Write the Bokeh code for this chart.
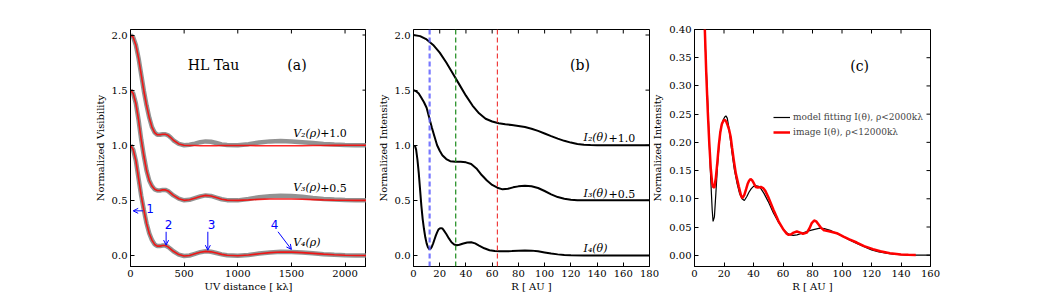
import math
from bokeh.plotting import figure
from bokeh.layouts import row
from bokeh.models import (Range1d, FixedTicker, PrintfTickFormatter, Label,
                          Arrow, OpenHead, Span, Legend, LegendItem)
from bokeh.embed import file_html
from bokeh.resources import INLINE

# ---------------- data ----------------
# (a) visibilities vs uv distance [k lambda]
uv_klambda = [0, 25, 50, 75, 100, 125, 150, 175, 200, 225, 250, 275, 300, 325, 350, 375, 400,
              450, 500, 550, 600, 650, 700, 750, 800, 850, 900, 1000, 1100, 1200, 1300, 1400,
              1500, 1600, 1700, 1800, 1900, 2000, 2100, 2200]
V2_obs = [1.0, 0.98, 0.91, 0.79, 0.64, 0.49, 0.36, 0.25, 0.165, 0.115, 0.095, 0.095, 0.10, 0.10,
          0.09, 0.07, 0.045, 0.012, 0.0, 0.005, 0.015, 0.028, 0.035, 0.032, 0.02, 0.008, 0.002,
          0.0, 0.01, 0.025, 0.035, 0.038, 0.035, 0.028, 0.02, 0.012, 0.006, 0.003, 0.001, 0.0]
V2_model = [1.0, 0.98, 0.91, 0.79, 0.64, 0.49, 0.36, 0.25, 0.165, 0.115, 0.095, 0.095, 0.10, 0.10,
            0.09, 0.07, 0.045, 0.012, 0.0, -0.002, -0.003, -0.004, -0.005, -0.005, -0.004, -0.003,
            -0.002, -0.002, -0.003, -0.004, -0.005, -0.005, -0.005, -0.004, -0.003, -0.002, -0.001,
            0.0, 0.0, 0.0]
V3_obs = [1.0, 0.97, 0.88, 0.73, 0.55, 0.40, 0.27, 0.18, 0.13, 0.10, 0.09, 0.09, 0.095, 0.095,
          0.085, 0.065, 0.045, 0.015, 0.0, 0.005, 0.02, 0.035, 0.045, 0.04, 0.025, 0.01, 0.002,
          0.0, 0.012, 0.028, 0.038, 0.042, 0.04, 0.032, 0.022, 0.013, 0.007, 0.003, 0.001, 0.0]
V3_model = [1.0, 0.97, 0.88, 0.73, 0.55, 0.40, 0.27, 0.18, 0.13, 0.10, 0.09, 0.09, 0.095, 0.095,
            0.085, 0.065, 0.045, 0.015, 0.0, 0.005, 0.02, 0.035, 0.045, 0.04, 0.025, 0.01, 0.002,
            0.0, 0.004, 0.009, 0.012, 0.013, 0.012, 0.01, 0.007, 0.004, 0.002, 0.001, 0.0, 0.0]
V4_obs = [1.0, 0.96, 0.86, 0.70, 0.54, 0.41, 0.29, 0.20, 0.14, 0.10, 0.085, 0.085, 0.09, 0.09,
          0.078, 0.058, 0.038, 0.008, -0.005, 0.0, 0.015, 0.03, 0.038, 0.034, 0.022, 0.01, 0.002,
          -0.002, 0.005, 0.018, 0.028, 0.033, 0.032, 0.027, 0.02, 0.012, 0.006, 0.002, 0.0, 0.0]
V4_model = [1.0, 0.96, 0.86, 0.70, 0.54, 0.41, 0.29, 0.20, 0.14, 0.10, 0.085, 0.085, 0.09, 0.09,
            0.078, 0.058, 0.038, 0.008, -0.005, 0.0, 0.015, 0.03, 0.037, 0.033, 0.022, 0.01, 0.002,
            -0.002, 0.004, 0.016, 0.026, 0.031, 0.03, 0.026, 0.019, 0.012, 0.006, 0.002, 0.0, 0.0]
V_offsets = [1.0, 0.5, 0.0]

# (b) intensity profiles vs radius [AU]
R_I2 = [0, 5, 10, 15, 20, 25, 30, 35, 40, 45, 50, 55, 60, 65, 70, 75, 80, 85, 90, 95, 100, 105,
        110, 115, 120, 125, 130, 135, 140, 150, 160, 170, 180]
I2 = [1.0, 0.99, 0.96, 0.91, 0.84, 0.75, 0.65, 0.55, 0.45, 0.36, 0.29, 0.24, 0.215, 0.20, 0.19,
      0.183, 0.175, 0.165, 0.15, 0.13, 0.107, 0.083, 0.06, 0.04, 0.024, 0.012, 0.005, 0.002, 0.0,
      0.0, 0.0, 0.0, 0.0]
R_I3 = [0, 2, 4, 6, 8, 10, 12, 14, 16, 18, 20, 22, 25, 28, 32, 36, 40, 44, 48, 52, 56, 60, 64, 68,
        72, 76, 80, 85, 90, 95, 100, 105, 110, 115, 120, 125, 130, 140, 160, 180]
I3 = [1.0, 0.99, 0.97, 0.93, 0.89, 0.84, 0.75, 0.66, 0.58, 0.50, 0.45, 0.41, 0.375, 0.355, 0.35,
      0.35, 0.345, 0.33, 0.29, 0.23, 0.18, 0.14, 0.115, 0.10, 0.105, 0.118, 0.127, 0.132, 0.128,
      0.112, 0.085, 0.055, 0.03, 0.015, 0.005, 0.001, 0.0, 0.0, 0.0, 0.0]
R_I4 = [1, 2, 3, 4, 5, 6, 7, 8, 9, 10, 11, 12, 13, 14, 15, 16, 17, 18, 19, 20, 21, 22, 23, 25, 27,
        29, 31, 33, 35, 38, 41, 44, 47, 50, 54, 58, 62, 66, 70, 75, 80, 85, 90, 95, 100, 105, 110,
        115, 120, 130, 150, 180]
I4 = [1.0, 0.96, 0.87, 0.75, 0.60, 0.45, 0.33, 0.24, 0.165, 0.11, 0.075, 0.058, 0.06, 0.08, 0.11,
      0.145, 0.18, 0.21, 0.235, 0.245, 0.248, 0.245, 0.23, 0.195, 0.155, 0.12, 0.10, 0.093, 0.097,
      0.108, 0.118, 0.12, 0.11, 0.09, 0.065, 0.048, 0.04, 0.038, 0.038, 0.04, 0.043, 0.045, 0.044,
      0.038, 0.028, 0.018, 0.01, 0.005, 0.002, 0.0, 0.0, 0.0]
I_offsets = [1.0, 0.5, 0.0]
gap_radii = [12.3, 32.2, 64.0]
gap_colors = ["#6060ff", "#1a8a1a", "#f03c3c"]

# (c) model fitting vs image profile
R_model = [6, 7, 8, 9, 10, 11, 12, 12.6, 13.5, 14.5, 15.5, 16.5, 17.5, 18.5, 19.5, 20.5, 21.3,
           22.2, 23.2, 24.3, 25.5, 27, 28.8, 30.5, 32.2, 33.8, 35.5, 37, 38.5, 40, 42, 43.5, 45,
           47, 50, 53.5, 57, 60.5, 63, 65, 67, 69.5, 72, 76, 80, 85, 88, 92, 96, 100, 105, 110,
           115, 120, 125, 130, 135, 140, 145, 150, 155, 160]
I_model = [0.46, 0.39, 0.33, 0.27, 0.20, 0.135, 0.08, 0.06, 0.068, 0.11, 0.155, 0.19, 0.218,
           0.232, 0.24, 0.245, 0.247, 0.243, 0.228, 0.205, 0.18, 0.152, 0.128, 0.11, 0.10, 0.097,
           0.104, 0.112, 0.118, 0.122, 0.123, 0.122, 0.118, 0.11, 0.095, 0.075, 0.058, 0.045,
           0.039, 0.036, 0.035, 0.036, 0.038, 0.042, 0.045, 0.048, 0.047, 0.044, 0.039, 0.034,
           0.027, 0.021, 0.015, 0.0095, 0.006, 0.0035, 0.0018, 0.0008, 0.0003, 0.0001, 0.0, 0.0]
R_image = [6, 7, 8, 9, 10, 11, 12, 12.6, 13.5, 14.5, 15.5, 16.5, 17.5, 18.5, 19.5, 20.5, 21.5,
           22.5, 23.5, 24.5, 25.5, 26.6, 28, 30, 31.5, 32.5, 33.8, 35, 36, 37, 38, 39, 40.1, 41.5,
           43, 45, 46.5, 48, 50, 53.6, 57, 60.4, 62.5, 63.8, 65.5, 67.2, 69.4, 71.7, 73.5, 76.2,
           78, 79.5, 81.1, 82.5, 84, 86, 88, 91.9, 96.5, 101, 105, 110, 115, 121, 126, 132.5,
           140, 145, 150]
I_image = [0.47, 0.40, 0.32, 0.255, 0.20, 0.155, 0.127, 0.121, 0.12, 0.138, 0.165, 0.195, 0.218,
           0.232, 0.238, 0.24, 0.237, 0.23, 0.222, 0.21, 0.19, 0.169, 0.145, 0.122, 0.106, 0.101,
           0.107, 0.117, 0.126, 0.132, 0.135, 0.133, 0.128, 0.121, 0.12, 0.121, 0.119, 0.114,
           0.103, 0.08, 0.06, 0.045, 0.038, 0.036, 0.037, 0.04, 0.042, 0.04, 0.038, 0.04, 0.048,
           0.057, 0.0615, 0.06, 0.055, 0.048, 0.044, 0.042, 0.039, 0.033, 0.028, 0.0225, 0.016,
           0.0107, 0.007, 0.0035, 0.0012, 0.0007, 0.0004]

xticks_a = [0, 500, 1000, 1500, 2000]
yticks_ab = [0.0, 0.5, 1.0, 1.5, 2.0]
xticks_b = [0, 20, 40, 60, 80, 100, 120, 140, 160, 180]
xticks_c = [0, 20, 40, 60, 80, 100, 120, 140, 160]
yticks_c = [0.0, 0.05, 0.10, 0.15, 0.20, 0.25, 0.30, 0.35, 0.40]

SERIF = "DejaVu Serif"
SANS = "DejaVu Sans"
FW, FH = 236, 237


def style_axis(ax, ticks, fmt):
    ax.ticker = FixedTicker(ticks=ticks)
    ax.formatter = PrintfTickFormatter(format=fmt)
    ax.major_tick_in = 4
    ax.major_tick_out = 0
    ax.minor_tick_in = 0
    ax.minor_tick_out = 0
    ax.axis_line_color = "black"
    ax.major_tick_line_color = "black"
    ax.major_label_text_font = SERIF
    ax.major_label_text_color = "black"
    ax.major_label_text_font_size = "10px"
    ax.major_label_standoff = 3
    ax.axis_label_text_font = SERIF
    ax.axis_label_text_font_style = "normal"
    ax.axis_label_text_font_size = "10px"
    ax.axis_label_text_color = "black"


def make_fig(xr, yr, left, right, xticks, xfmt, yticks, yfmt, xlabel, ylabel):
    p = figure(frame_width=FW, frame_height=FH, x_range=Range1d(*xr), y_range=Range1d(*yr),
               output_backend="svg", toolbar_location=None,
               min_border_left=left, min_border_right=right, min_border_top=29,
               min_border_bottom=32, x_axis_label=xlabel, y_axis_label=ylabel)
    p.grid.visible = False
    p.outline_line_color = "black"
    p.background_fill_color = "white"
    p.border_fill_color = "white"
    style_axis(p.xaxis[0], xticks, xfmt)
    style_axis(p.yaxis[0], yticks, yfmt)
    p.xaxis[0].axis_label_standoff = 1
    p.yaxis[0].axis_label_standoff = 3
    # inward ticks on the top and right frame edges
    p.ray(x=xticks, y=[yr[1]] * len(xticks), length=4, length_units="screen",
          angle=-math.pi / 2, line_color="black", line_width=1)
    p.ray(x=[xr[1]] * len(yticks), y=yticks, length=4, length_units="screen",
          angle=math.pi, line_color="black", line_width=1)
    return p


def two_part_label(p, x, y, ital, upright, offset, size="11px"):
    p.add_layout(Label(x=x, y=y, text=ital, text_font=SERIF, text_font_style="italic",
                       text_font_size=size, text_color="black", text_baseline="alphabetic"))
    if upright:
        p.add_layout(Label(x=x, y=y, x_offset=offset, text=upright, text_font=SERIF,
                           text_font_size=size, text_color="black", text_baseline="alphabetic"))


# ---------------- panel (a) ----------------
pa = make_fig((0, 2200), (-0.1, 2.05), 130, 0, xticks_a, "%d", yticks_ab, "%.1f",
              "UV distance [ kλ]", "Normalized Visibility")
for obs, mod, off in zip([V2_obs, V3_obs, V4_obs], [V2_model, V3_model, V4_model], V_offsets):
    pa.line(uv_klambda, [v + off for v in obs], line_color="#7f7f7f",
            line_width=4.5, line_alpha=0.85)
    pa.line(uv_klambda, [v + off for v in mod], line_color="red",
            line_width=1.6, line_alpha=0.85)

pa.add_layout(Label(x=774, y=1.73, text="HL Tau", text_font=SERIF, text_font_size="14px",
                    text_align="center", text_baseline="middle", text_color="black"))
pa.add_layout(Label(x=1552, y=1.73, text="(a)", text_font=SERIF, text_font_size="14px",
                    text_align="center", text_baseline="middle", text_color="black"))
two_part_label(pa, 1516, 1.11, "V₂(ρ)", "+1.0", 27)
two_part_label(pa, 1516, 0.615, "V₃(ρ)", "+0.5", 27)
two_part_label(pa, 1516, 0.12, "V₄(ρ)", "", 0)

arrow_starts = [(118, 0.405), (332, 0.215), (721, 0.215), (1375, 0.215)]
arrow_ends = [(25, 0.405), (332, 0.094), (721, 0.048), (1500, 0.055)]
num_pos = [(182, 0.43), (354, 0.285), (756, 0.285), (1343, 0.285)]
for (xs, ys), (xe, ye), (xn, yn), t in zip(arrow_starts, arrow_ends, num_pos, ["1", "2", "3", "4"]):
    pa.add_layout(Arrow(end=OpenHead(size=5, line_color="blue", line_width=1),
                        x_start=xs, y_start=ys, x_end=xe, y_end=ye,
                        line_color="blue", line_width=1))
    pa.add_layout(Label(x=xn, y=yn, text=t, text_font=SANS, text_font_size="12px",
                        text_color="blue", text_align="center", text_baseline="middle"))

# ---------------- panel (b) ----------------
pb = make_fig((0, 180), (-0.1, 2.05), 47, 10, xticks_b, "%d", yticks_ab, "%.1f",
              "R [ AU ]", "Normalized Intensity")
for r, c, w, a in zip(gap_radii, gap_colors, [2.2, 1.2, 1.2], [0.85, 1.0, 1.0]):
    pb.add_layout(Span(location=r, dimension="height", line_color=c, line_width=w,
                       line_alpha=a, line_dash="5 3"))
for rr, ii, off in zip([R_I2, R_I3, R_I4], [I2, I3, I4], I_offsets):
    pb.line(rr, [v + off for v in ii], line_color="black", line_width=2)
pb.add_layout(Label(x=127, y=1.73, text="(b)", text_font=SERIF, text_font_size="14px",
                    text_align="center", text_baseline="middle", text_color="black"))
two_part_label(pb, 129.7, 1.07, "I₂(θ)", "+1.0", 25)
two_part_label(pb, 129.7, 0.56, "I₃(θ)", "+0.5", 25)
two_part_label(pb, 129.7, 0.06, "I₄(θ)", "", 0)

# ---------------- panel (c) ----------------
pc = make_fig((0, 160), (-0.02, 0.40), 40, 12, xticks_c, "%d", yticks_c, "%.2f",
              "R [ AU ]", "Normalized Intensity")
pc.border_fill_alpha = 0
pc.margin = (0, 0, 0, -10)
r_model = pc.line(R_model, I_model, line_color="black", line_width=1.2)
r_image = pc.line(R_image, I_image, line_color="red", line_width=2.5)
pc.add_layout(Label(x=112, y=0.336, text="(c)", text_font=SERIF, text_font_size="14px",
                    text_align="center", text_baseline="middle", text_color="black"))
legend = Legend(items=[LegendItem(label="model fitting I(θ), ρ<2000kλ", renderers=[r_model]),
                       LegendItem(label="image I(θ), ρ<12000kλ", renderers=[r_image])],
                location=(79, 128), padding=0, margin=0, spacing=3,
                label_height=12, glyph_height=12, glyph_width=17, label_standoff=3,
                label_text_font=SERIF, label_text_font_size="9px",
                border_line_alpha=0, background_fill_alpha=0)
pc.add_layout(legend)

layout = row(pa, pb, pc, spacing=0)
open("out.html", "w").write(file_html(layout, INLINE))
